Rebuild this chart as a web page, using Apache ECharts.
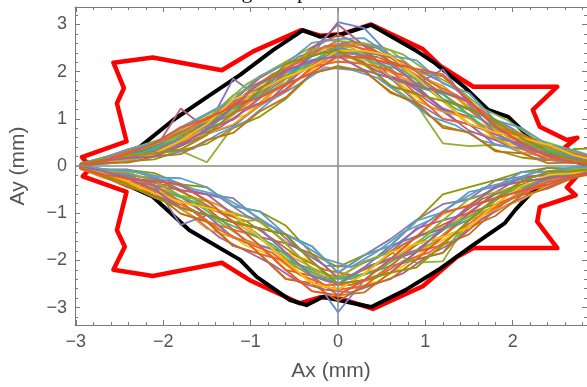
<!DOCTYPE html>
<html><head><meta charset="utf-8">
<script src="https://cdn.jsdelivr.net/npm/echarts@6/dist/echarts.min.js"></script>
<style>html,body{margin:0;padding:0;background:#fff;overflow:hidden}#c{width:587px;height:387px}</style>
</head><body><div id="c"></div>
<script>
// ---------- data ----------
const captionText = "5: Wave of the actual testing acceptable set.";
const xAxisName = "Ax (mm)";
const yAxisName = "Ay (mm)";
const xMin = -3.01, xMax = 2.85, yMin = -3.37, yMax = 3.37;
const xMajorTicks = [-3,-2,-1,0,1,2];
const xMinorTicks = [-2.8,-2.6,-2.4,-2.2,-1.8,-1.6,-1.4,-1.2,-0.8,-0.6,-0.4,-0.2,0.2,0.4,0.6,0.8,1.2,1.4,1.6,1.8,2.2,2.4,2.6,2.8];
const yMajorTicks = [-3,-2,-1,0,1,2,3];
const yMinorTicks = [-3.2,-2.8,-2.6,-2.4,-2.2,-1.8,-1.6,-1.4,-1.2,-0.8,-0.6,-0.4,-0.2,0.2,0.4,0.6,0.8,1.2,1.4,1.6,1.8,2.2,2.4,2.6,2.8,3.2];

// red envelope (closed loop)
const redX = [-2.84,-2.88,-2.93,-2.42,-2.53,-2.45,-2.57,-2.12,-1.33,-0.97,-0.42,-0.20,0.05,0.38,0.65,0.97,1.17,1.55,2.51,2.23,2.31,2.62,2.74,2.60,2.78,2.86,2.78,2.62,2.72,2.31,2.28,2.51,1.55,1.36,0.97,0.40,0.05,-0.20,-0.44,-1.01,-1.33,-2.12,-2.57,-2.44,-2.53,-2.42,-2.92,-2.86,-2.84];
const redY = [0.00,0.08,0.19,0.52,1.33,1.65,2.19,2.30,2.03,2.43,2.88,2.76,2.80,3.00,2.76,2.48,2.12,1.68,1.68,1.19,0.83,0.55,0.60,0.40,0.12,0.00,-0.12,-0.45,-0.62,-0.87,-1.18,-1.74,-1.74,-1.93,-2.55,-3.03,-2.82,-2.78,-2.91,-2.42,-2.05,-2.33,-2.20,-1.71,-1.36,-0.55,-0.22,-0.10,0.00];

// black reference (closed loop)
const blackX = [-2.95,-2.60,-2.27,-1.89,-1.50,-1.12,-0.74,-0.40,-0.21,0.02,0.38,0.88,1.11,1.45,1.72,1.95,2.14,2.40,2.70,2.90,2.70,2.40,2.21,2.03,1.91,1.52,1.15,0.77,0.38,0.00,-0.17,-0.36,-0.55,-0.93,-1.12,-1.70,-2.12,-2.60,-2.95];
const blackY = [0.00,0.20,0.40,0.97,1.46,1.93,2.46,2.88,2.74,2.78,2.99,2.46,2.18,1.67,1.19,1.04,0.70,0.30,0.10,0.00,-0.10,-0.30,-0.57,-0.93,-1.21,-1.71,-2.20,-2.63,-2.99,-2.84,-2.77,-2.95,-2.84,-2.35,-1.99,-1.36,-0.65,-0.25,0.00];

// measured traces, group A: Ax grid A, Ay of upper and lower halves
const xGridA = [-2.95,-2.7,-2.4,-2.1,-1.8,-1.5,-1.2,-0.9,-0.6,-0.3,0,0.3,0.6,0.9,1.2,1.5,1.8,2.1,2.4,2.7,3.0];
const trace01Upper = [0.03,0.12,0.25,0.36,0.46,0.75,1.24,1.48,1.86,2.12,2.47,2.40,2.06,1.66,1.22,1.02,0.73,0.57,0.31,0.16,0.09];
const trace01Lower = [-0.03,-0.12,-0.26,-0.47,-0.66,-0.86,-1.05,-1.47,-1.97,-2.20,-2.52,-2.18,-1.95,-1.78,-1.36,-0.98,-0.60,-0.41,-0.27,-0.14,-0.06];
const trace02Upper = [0.04,0.15,0.28,0.46,0.78,1.03,1.30,1.71,2.05,2.45,2.60,2.55,2.30,1.92,1.70,1.25,0.93,0.62,0.36,0.24,0.12];
const trace02Lower = [-0.01,-0.10,-0.15,-0.30,-0.42,-0.72,-0.98,-1.18,-1.60,-1.90,-2.35,-2.05,-1.80,-1.52,-1.02,-0.82,-0.47,-0.25,-0.18,-0.10,-0.04];
const trace03Upper = [0.02,0.08,0.12,0.27,0.32,0.08,0.84,1.28,1.62,2.08,2.43,2.15,1.72,1.30,0.48,0.42,0.45,0.36,0.15,0.11,0.05];
const trace03Lower = [-0.02,-0.14,-0.21,-0.24,-0.51,-0.89,-1.02,-1.14,-1.64,-2.18,-2.38,-2.29,-1.83,-2.05,-2.02,-1.15,-0.69,-0.43,-0.26,-0.11,-0.04];
const trace04Upper = [0.03,0.13,0.23,0.39,0.56,0.86,1.16,1.33,1.84,2.37,2.66,2.46,2.00,1.85,1.40,1.19,0.74,0.58,0.31,0.21,0.10];
const trace04Lower = [-0.04,-0.14,-0.33,-0.41,-0.76,-1.18,-1.35,-1.50,-2.01,-2.33,-2.50,-2.42,-2.26,-1.82,-1.33,-1.15,-0.69,-0.52,-0.33,-0.15,-0.09];
const trace05Upper = [0.01,0.08,0.12,0.27,0.44,0.80,1.85,1.45,1.73,1.97,2.33,2.03,1.87,1.34,1.00,0.89,0.45,0.38,0.13,0.07,0.02];
const trace05Lower = [0.00,-0.07,-0.08,-0.24,-0.51,-0.60,-0.68,-1.14,-1.45,-1.70,-2.26,-1.89,-1.55,-1.14,-0.81,-0.70,-0.31,-0.23,-0.04,-0.06,-0.01];
const trace06Upper = [0.04,0.15,0.30,0.43,0.70,0.92,1.38,1.86,2.18,2.33,2.55,2.60,2.22,2.02,1.90,1.40,0.88,0.68,0.39,0.27,0.13];
const trace06Lower = [-0.05,-0.17,-0.40,-0.67,-0.88,-1.04,-1.52,-1.68,-2.20,-2.33,-2.74,-2.68,-2.26,-1.82,-1.67,-1.45,-0.93,-0.52,-0.40,-0.20,-0.12];
const trace07Upper = [0.02,0.10,0.18,0.33,0.60,0.80,1.00,1.42,1.98,2.25,2.36,2.28,1.90,1.73,1.52,1.08,0.60,0.47,0.22,0.17,0.06];
const trace07Lower = [-0.03,-0.11,-0.27,-0.32,-0.64,-1.04,-1.19,-1.32,-1.83,-2.33,-2.50,-2.15,-1.98,-1.49,-1.33,-0.85,-0.69,-0.33,-0.26,-0.11,-0.07];
const trace08Upper = [0.03,0.12,0.26,0.45,0.66,0.97,1.25,1.72,2.05,2.45,2.55,2.33,2.15,2.02,1.60,1.35,0.86,0.52,0.35,0.19,0.08];
const trace08Lower = [-0.03,-0.17,-0.27,-0.50,-0.64,-0.74,-1.19,-1.68,-1.83,-2.02,-2.50,-2.42,-1.98,-1.82,-1.33,-1.15,-0.69,-0.33,-0.26,-0.20,-0.07];
const trace09Upper = [0.02,0.07,0.16,0.22,0.42,0.68,0.86,1.27,1.62,2.08,2.42,2.20,1.68,1.55,1.16,0.75,0.55,0.29,0.20,0.13,0.05];
const trace09Lower = [-0.02,-0.07,-0.21,-0.41,-0.51,-0.60,-1.02,-1.50,-1.64,-1.86,-2.38,-2.29,-1.83,-1.32,-1.15,-1.00,-0.56,-0.23,-0.19,-0.06,-0.04];
const trace10Upper = [0.01,0.04,0.10,0.14,0.33,0.47,0.80,1.04,1.42,1.95,2.12,2.00,1.58,1.30,0.85,0.70,0.34,0.18,0.12,0.36,0.38];
const trace10Lower = [0.00,-0.07,-0.08,-0.15,-0.39,-0.45,-0.85,-0.96,-1.26,-1.86,-2.14,-1.89,-1.69,-1.16,-0.60,-0.45,-0.30,-0.13,-0.04,-0.06,0.01];
const trace11Upper = [0.04,0.17,0.26,0.36,0.61,1.02,1.30,1.48,2.00,2.50,2.78,2.55,2.21,1.74,1.58,1.35,0.82,0.51,0.38,0.27,0.11];
const trace11Lower = [-0.04,-0.14,-0.33,-0.58,-0.76,-0.89,-1.35,-1.86,-2.39,-2.49,-2.62,-2.29,-2.12,-1.98,-1.50,-1.00,-0.81,-0.62,-0.33,-0.15,-0.09];
const trace12Upper = [0.03,0.08,0.22,0.41,0.72,0.89,1.13,1.60,1.88,2.35,3.05,2.92,2.34,1.88,1.38,0.89,0.71,0.60,0.29,0.12,0.09];
const trace12Lower = [-0.03,-0.17,-0.27,-0.32,-0.64,-1.04,-1.52,-1.68,-1.83,-2.33,-3.10,-2.42,-1.98,-1.49,-1.33,-1.15,-0.69,-0.33,-0.26,-0.11,-0.07];
const trace13Upper = [0.03,0.13,0.23,0.29,0.52,0.86,1.16,1.57,2.12,2.38,2.48,2.41,2.37,1.85,1.41,1.20,0.99,0.57,0.30,0.22,0.10];
const trace13Lower = [-0.04,-0.21,-0.33,-0.58,-1.01,-1.18,-1.69,-1.86,-2.01,-2.18,-2.62,-2.55,-2.12,-1.65,-1.50,-1.30,-0.81,-0.43,-0.33,-0.15,-0.09];
const trace14Upper = [0.02,0.11,0.17,0.34,1.22,0.78,0.98,1.45,1.73,2.45,3.00,2.55,1.87,1.70,1.19,1.05,0.58,0.49,0.21,0.18,0.06];
const trace14Lower = [-0.03,-0.17,-0.27,-0.32,-0.64,-1.04,-1.19,-1.32,-1.83,-2.33,-2.50,-2.15,-1.98,-1.82,-1.33,-0.85,-0.69,-0.52,-0.26,-0.20,-0.07];
const trace15Upper = [0.02,0.10,0.26,0.36,0.47,0.75,1.24,1.48,1.76,2.20,2.54,2.33,1.84,1.67,1.53,1.08,0.61,0.46,0.35,0.19,0.07];
const trace15Lower = [-0.04,-0.14,-0.21,-0.41,-0.76,-0.89,-1.02,-1.50,-2.01,-2.18,-2.38,-2.29,-2.12,-1.98,-1.84,-1.15,-0.69,-0.33,-0.26,-0.11,-0.07];
const trace16Upper = [0.04,0.13,0.24,0.40,0.70,0.91,1.38,1.63,1.85,2.33,2.48,2.42,2.30,1.91,1.42,1.20,0.95,0.62,0.30,0.22,0.11];
const trace16Lower = [-0.02,-0.11,-0.27,-0.32,-0.39,-0.74,-1.19,-1.32,-1.45,-2.02,-2.50,-2.15,-1.69,-1.49,-1.33,-0.85,-0.44,-0.33,-0.26,-0.11,-0.04];
const trace17Upper = [0.02,0.09,0.13,0.25,0.52,0.68,0.88,1.27,1.84,2.12,2.30,2.27,1.90,1.38,1.15,1.02,0.60,0.29,0.20,0.11,0.06];
const trace17Lower = [-0.05,-0.24,-0.40,-0.50,-0.88,-1.33,-1.52,-1.68,-2.20,-2.65,-2.74,-2.42,-2.26,-2.15,-1.67,-1.15,-0.93,-0.72,-0.40,-0.20,-0.12];
const trace18Upper = [0.05,0.17,0.28,0.46,0.66,0.98,1.50,1.72,2.05,2.46,2.55,2.60,2.45,2.02,1.60,1.36,0.87,0.68,0.38,0.30,0.16];
const trace18Lower = [-0.03,-0.11,-0.14,-0.32,-0.64,-0.74,-1.19,-1.14,-1.64,-2.18,-2.38,-2.02,-1.83,-1.65,-1.15,-0.70,-0.56,-0.43,-0.19,-0.06,-0.04];
const trace19Upper = [0.01,0.08,0.22,0.27,0.35,0.66,1.13,1.30,1.59,2.10,2.21,2.17,2.03,1.52,1.00,0.89,0.71,0.38,0.13,0.12,0.02];
const trace19Lower = [-0.04,-0.21,-0.33,-0.41,-0.76,-1.18,-1.69,-1.86,-2.01,-2.49,-2.62,-2.55,-2.12,-1.65,-1.50,-1.30,-0.81,-0.62,-0.33,-0.24,-0.09];
const trace20Upper = [0.03,0.12,0.18,0.32,0.56,0.86,1.10,1.57,2.05,2.20,2.43,2.33,2.15,1.73,2.05,1.30,0.69,0.40,0.28,0.17,0.09];
const trace20Lower = [-0.03,-0.14,-0.21,-0.41,-1.25,-1.04,-1.19,-1.32,-1.83,-2.33,-2.50,-2.15,-1.98,-1.82,-1.33,-0.85,-0.69,-0.52,-0.26,-0.11,-0.07];
const trace21Upper = [0.00,0.06,0.07,0.20,0.25,0.55,0.70,1.15,1.45,1.97,2.09,2.03,1.55,1.34,0.81,0.72,0.31,0.27,0.06,0.07,-0.01];
const trace21Lower = [-0.06,-0.21,-0.46,-0.58,-1.01,-1.18,-1.69,-1.86,-2.39,-2.49,-2.86,-2.55,-2.40,-1.98,-1.84,-1.30,-1.06,-0.62,-0.48,-0.24,-0.14];
const trace22Upper = [0.06,0.16,0.36,0.48,0.82,1.11,1.41,1.90,2.16,2.61,2.69,2.71,2.34,2.24,1.75,1.55,0.97,0.81,0.45,0.33,0.16];
const trace22Lower = [0.00,-0.07,-0.08,-0.24,-0.26,-0.45,-0.85,-0.96,-1.45,-1.70,-2.26,-1.89,-1.69,-1.16,-0.98,-0.55,-0.44,-0.13,-0.12,-0.02,-0.01];
const trace23Upper = [0.03,0.14,0.22,0.27,0.54,0.89,1.41,1.60,1.88,2.10,2.45,2.44,2.34,1.88,1.38,0.89,0.71,0.60,0.45,0.23,0.09];
const trace23Lower = [-0.02,-0.14,-0.33,-0.58,-0.76,-0.89,-1.02,-1.50,-2.01,-2.49,-2.62,-2.29,-1.83,-1.65,-1.50,-1.30,-0.81,-0.43,-0.19,-0.15,-0.04];
const trace24Upper = [0.04,0.11,0.17,0.20,0.44,0.78,1.27,1.75,2.02,2.23,2.33,2.03,1.87,1.70,1.56,1.38,0.84,0.49,0.21,0.07,0.06];
const trace24Lower = [-0.01,-0.11,-0.27,-0.50,-0.88,-1.04,-1.19,-1.32,-1.45,-2.02,-2.50,-2.42,-2.26,-1.82,-1.33,-0.85,-0.44,-0.33,-0.26,-0.20,-0.07];
const trace25Upper = [0.05,0.14,0.22,0.27,0.35,0.66,1.13,1.60,2.16,2.35,2.45,2.17,1.71,1.52,1.38,1.22,0.97,0.60,0.29,0.12,0.09];
const trace25Lower = [-0.03,-0.17,-0.40,-0.67,-0.88,-1.04,-1.19,-1.32,-1.45,-2.02,-2.50,-2.42,-2.26,-2.15,-1.67,-1.15,-0.69,-0.33,-0.12,-0.11,-0.07];
const trace26Upper = [0.02,0.11,0.27,0.48,0.82,1.00,1.27,1.45,1.73,1.97,2.33,2.30,2.18,2.06,1.94,1.38,0.84,0.49,0.21,0.07,0.06];
const trace26Lower = [-0.05,-0.17,-0.27,-0.32,-0.39,-0.74,-1.19,-1.68,-2.20,-2.65,-2.74,-2.42,-1.98,-1.49,-0.98,-0.85,-0.69,-0.52,-0.40,-0.20,-0.12];

// measured traces, group B: Ax grid B (sampled between grid A points)
const xGridB = [-2.85,-2.55,-2.25,-1.95,-1.65,-1.35,-1.05,-0.75,-0.45,-0.15,0.15,0.45,0.75,1.05,1.35,1.65,1.95,2.25,2.55,2.85,3.1];
const trace27Upper = [0.06,0.20,0.30,0.44,0.72,1.12,1.44,1.71,2.14,2.54,2.51,2.21,1.86,1.66,1.45,0.98,0.60,0.42,0.30,0.16,0.07];
const trace27Lower = [-0.04,-0.18,-0.34,-0.59,-0.67,-0.83,-1.28,-1.72,-2.17,-2.34,-2.31,-2.08,-1.91,-1.71,-1.21,-0.79,-0.55,-0.40,-0.22,-0.09,-0.05];
const trace28Upper = [0.04,0.11,0.24,0.30,0.55,0.91,1.09,1.56,1.83,2.22,2.21,2.06,1.69,1.24,1.09,0.68,0.48,0.36,0.16,0.07,0.03];
const trace28Lower = [-0.09,-0.26,-0.49,-0.70,-1.08,-1.31,-1.69,-1.90,-2.29,-2.62,-2.60,-2.45,-2.12,-1.71,-1.43,-1.12,-0.70,-0.48,-0.32,-0.15,-0.09];
const trace29Upper = [0.08,0.23,0.42,0.61,0.79,1.20,1.63,1.91,2.32,2.50,2.63,2.50,2.14,1.91,1.62,1.13,0.84,0.51,0.36,0.20,0.12];
const trace29Lower = [-0.03,-0.10,-0.24,-0.31,-0.53,-0.67,-1.05,-1.29,-1.77,-2.11,-2.14,-1.95,-1.55,-1.15,-0.78,-0.61,-0.33,-0.23,-0.10,-0.03,-0.01];
const trace30Upper = [0.05,0.15,0.30,0.41,0.65,0.87,1.29,1.71,2.00,2.34,2.42,2.11,1.86,1.60,1.15,0.88,0.64,0.36,0.23,0.14,0.06];
const trace30Lower = [-0.07,-0.20,-0.37,-0.52,-0.81,-0.99,-1.34,-1.72,-2.00,-2.29,-2.39,-2.18,-1.81,-1.43,-1.16,-0.89,-0.55,-0.31,-0.20,-0.11,-0.05];
const trace31Upper = [0.09,0.25,0.44,0.61,0.93,1.24,1.73,2.05,2.37,2.67,2.63,2.55,2.36,1.97,1.68,1.23,0.96,0.58,0.41,0.23,0.14];
const trace31Lower = [-0.08,-0.23,-0.44,-0.62,-0.85,-1.20,-1.57,-1.78,-2.17,-2.43,-2.52,-2.31,-1.91,-1.66,-1.27,-0.98,-0.70,-0.42,-0.24,-0.14,-0.07];
const trace32Upper = [0.02,0.07,0.18,0.24,0.37,0.70,0.95,1.41,1.73,2.09,2.04,1.87,1.47,1.05,0.86,0.53,0.40,0.17,0.10,0.03,0.00];
const trace32Lower = [-0.02,-0.10,-0.14,-0.27,-0.49,-0.62,-0.93,-1.29,-1.60,-1.97,-2.14,-1.81,-1.40,-1.15,-0.78,-0.47,-0.33,-0.14,-0.08,-0.02,0.00];
const trace33Upper = [0.07,0.21,0.32,0.55,0.75,1.03,1.49,1.81,2.23,2.42,2.38,2.31,2.08,1.72,1.33,1.08,0.72,0.45,0.32,0.17,0.08];
const trace33Lower = [-0.05,-0.15,-0.31,-0.41,-0.67,-0.99,-1.17,-1.54,-1.94,-2.20,-2.31,-2.08,-1.66,-1.38,-1.11,-0.70,-0.48,-0.31,-0.16,-0.06,-0.03];
const trace34Upper = [0.04,0.15,0.22,0.38,0.61,0.82,1.19,1.46,1.96,2.30,2.30,2.01,1.80,1.42,0.97,0.78,0.56,0.30,0.19,0.12,0.04];
const trace34Lower = [-0.10,-0.31,-0.54,-0.73,-1.08,-1.52,-1.80,-2.09,-2.46,-2.62,-2.68,-2.49,-2.27,-1.88,-1.59,-1.12,-0.81,-0.56,-0.34,-0.17,-0.11];
const trace35Upper = [0.06,0.19,0.28,0.50,0.69,1.08,1.34,1.76,2.05,2.38,2.46,2.16,2.03,1.60,1.21,0.98,0.64,0.39,0.25,0.16,0.07];
const trace35Lower = [-0.06,-0.22,-0.31,-0.56,-0.76,-1.15,-1.40,-1.66,-2.11,-2.39,-2.39,-2.22,-1.86,-1.49,-1.21,-0.93,-0.55,-0.37,-0.20,-0.11,-0.05];
const trace36Upper = [0.07,0.23,0.40,0.58,0.86,1.12,1.54,1.95,2.19,2.54,2.55,2.41,2.20,1.78,1.51,1.18,0.76,0.55,0.32,0.20,0.10];
const trace36Lower = [-0.08,-0.28,-0.42,-0.70,-0.94,-1.36,-1.63,-1.84,-2.29,-2.52,-2.52,-2.36,-2.01,-1.83,-1.43,-1.02,-0.74,-0.42,-0.28,-0.16,-0.08];

// ---------- styling ----------
const palette = ['#5E81B5','#E19C24','#8FB032','#EB6235','#8778B3','#C56E1A','#5D9EC7','#FFBF00','#A5609D','#929600','#E95536','#6685D9','#F89F13','#BC5B80','#47B66D'];
const paletteB = ['#E19C24','#FFBF00','#8778B3','#F89F13','#8FB032','#5D9EC7','#C56E1A','#A5609D','#47B66D','#EB6235'];
const tracesA = [
  [trace01Upper,trace01Lower],[trace02Upper,trace02Lower],[trace03Upper,trace03Lower],[trace04Upper,trace04Lower],
  [trace05Upper,trace05Lower],[trace06Upper,trace06Lower],[trace07Upper,trace07Lower],[trace08Upper,trace08Lower],
  [trace09Upper,trace09Lower],[trace10Upper,trace10Lower],[trace11Upper,trace11Lower],[trace12Upper,trace12Lower],
  [trace13Upper,trace13Lower],[trace14Upper,trace14Lower],[trace15Upper,trace15Lower],[trace16Upper,trace16Lower],
  [trace17Upper,trace17Lower],[trace18Upper,trace18Lower],[trace19Upper,trace19Lower],[trace20Upper,trace20Lower],
  [trace21Upper,trace21Lower],[trace22Upper,trace22Lower],[trace23Upper,trace23Lower],[trace24Upper,trace24Lower],
  [trace25Upper,trace25Lower],[trace26Upper,trace26Lower]
];
const tracesB = [
  [trace27Upper,trace27Lower],[trace28Upper,trace28Lower],[trace29Upper,trace29Lower],[trace30Upper,trace30Lower],
  [trace31Upper,trace31Lower],[trace32Upper,trace32Lower],[trace33Upper,trace33Lower],[trace34Upper,trace34Lower],
  [trace35Upper,trace35Lower],[trace36Upper,trace36Lower]
];
const FRAME = '#7a7a7a', LABEL = '#555', FONT = '"Liberation Sans", Arial, sans-serif';
const fmt = v => (v < 0 ? '\u2212' + Math.abs(v) : String(v));

function loopPoints(xs, up, low) {
  const pts = [];
  for (let i = 0; i < xs.length; i++) pts.push([xs[i], up[i]]);
  for (let i = xs.length - 1; i >= 0; i--) pts.push([xs[i], low[i]]);
  pts.push([xs[0], up[0]]);
  return pts;
}
function pairs(xs, ys) { return xs.map((x, i) => [x, ys[i]]); }

function xAx(pos, major, withLabels) {
  return {
    type: 'value', gridIndex: 0, position: pos, min: xMin, max: xMax,
    axisLine: { show: major, onZero: false, lineStyle: { color: FRAME, width: 1 } },
    axisTick: { show: true, inside: true, length: major ? 5 : 3, customValues: major ? xMajorTicks : xMinorTicks, lineStyle: { color: FRAME, width: 1 } },
    axisLabel: withLabels ? { show: true, customValues: xMajorTicks, formatter: fmt, color: LABEL, fontSize: 18, fontFamily: FONT, margin: 8 } : { show: false },
    splitLine: { show: false },
    name: withLabels ? xAxisName : '', nameLocation: 'middle', nameGap: 36,
    nameTextStyle: { color: LABEL, fontSize: 21, fontFamily: FONT }
  };
}
function yAx(pos, major, withLabels) {
  return {
    type: 'value', gridIndex: 0, position: pos, min: yMin, max: yMax,
    axisLine: { show: major, onZero: false, lineStyle: { color: FRAME, width: 1 } },
    axisTick: { show: true, inside: true, length: major ? 5 : 3, customValues: major ? yMajorTicks : yMinorTicks, lineStyle: { color: FRAME, width: 1 } },
    axisLabel: withLabels ? { show: true, customValues: yMajorTicks, formatter: fmt, color: LABEL, fontSize: 18, fontFamily: FONT, margin: 8 } : { show: false },
    splitLine: { show: false },
    name: withLabels ? yAxisName : '', nameLocation: 'middle', nameGap: 46,
    nameTextStyle: { color: LABEL, fontSize: 21, fontFamily: FONT }
  };
}

const series = [];
series.push({ type: 'line', name: 'limit', data: pairs(redX, redY), showSymbol: false, symbol: 'none', clip: true,
  lineStyle: { color: '#ff0000', width: 4.5, join: 'round' }, xAxisIndex: 0, yAxisIndex: 0 });
series.push({ type: 'line', name: 'reference', data: pairs(blackX, blackY), showSymbol: false, symbol: 'none', clip: true,
  lineStyle: { color: '#000', width: 4, join: 'round' }, xAxisIndex: 0, yAxisIndex: 0 });
const allTraces = tracesA.map((t, i) => ({ xs: xGridA, up: t[0], low: t[1], color: palette[i % palette.length] }));
tracesB.forEach((t, i) => allTraces.splice(2 + i * 3, 0, { xs: xGridB, up: t[0], low: t[1], color: paletteB[i % paletteB.length] }));
allTraces.forEach((t, i) => {
  series.push({ type: 'line', name: 'trace' + (i + 1), data: loopPoints(t.xs, t.up, t.low), showSymbol: false, symbol: 'none', clip: true,
    lineStyle: { color: t.color, width: 1.8 }, xAxisIndex: 0, yAxisIndex: 0 });
});
series.push({ type: 'line', name: 'origin', data: [], xAxisIndex: 0, yAxisIndex: 0, z: 10,
  markLine: { silent: true, symbol: 'none', label: { show: false }, animation: false,
    lineStyle: { color: '#8a8a8a', width: 1.5, type: 'solid' }, data: [{ xAxis: 0 }, { yAxis: 0 }] } });

const chart = echarts.init(document.getElementById('c'), null, { renderer: 'canvas' });
chart.setOption({
  animation: false,
  backgroundColor: '#fff',
  grid: { left: 75, right: 0, top: 7, bottom: 62, containLabel: false },
  xAxis: [xAx('bottom', true, true), xAx('bottom', false, false), xAx('top', true, false), xAx('top', false, false)],
  yAxis: [yAx('left', true, true), yAx('left', false, false), yAx('right', true, false), yAx('right', false, false)],
  graphic: [{ type: 'text', left: 2, top: -19, style: { text: captionText, font: '22px "Liberation Serif", "Times New Roman", serif', fill: '#111' } }],
  series: series
});
</script>
</body></html>
